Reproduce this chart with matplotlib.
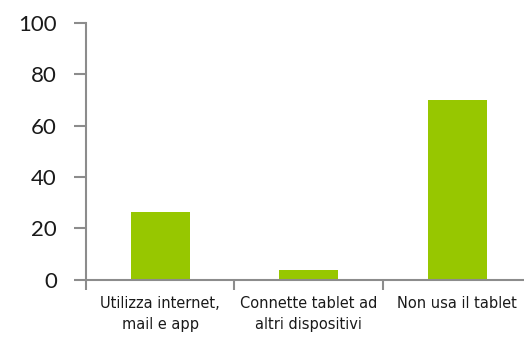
import matplotlib
matplotlib.use("Agg")
import matplotlib.pyplot as plt

# Chart data
categories = ["Utilizza internet,\nmail e app", "Connette tablet ad\naltri dispositivi", "Non usa il tablet"]
values = [26.3, 3.6, 70.0]
y_ticks = [0, 20, 40, 60, 80, 100]

bar_color = "#97C700"
axis_color = "#8C8C8C"

fig = plt.figure(figsize=(5.24, 3.39), dpi=100)
# axes reaches slightly past the right edge, as in the reference
ax = fig.add_axes([86 / 524, 1 - 279.5 / 339, 445.5 / 524, (279.5 - 23) / 339])

x = list(range(len(categories)))
ax.bar(x, values, width=0.40, color=bar_color, zorder=2)

ax.set_xlim(-0.5, len(categories) - 0.5)
ax.set_ylim(0, 100)

# Spines
for side in ["top", "right"]:
    ax.spines[side].set_visible(False)
for side in ["left", "bottom"]:
    ax.spines[side].set_color(axis_color)
    ax.spines[side].set_linewidth(1.5)

# Y axis
ax.set_yticks(y_ticks)
ax.set_yticklabels([str(v) for v in y_ticks], family=["Lato", "DejaVu Sans"], fontsize=16,
                   color="#1a1a1a")
ax.tick_params(axis="y", direction="out", length=9, width=1.5, color=axis_color, pad=12)

# X axis: labels centred, tick marks on category boundaries
ax.set_xticks(x)
labels = ax.set_xticklabels(categories, family=["DejaVu Sans"], fontstretch="condensed", fontsize=11.7,
                            color="#1a1a1a", linespacing=1.45)
for lab in labels:
    lab.set_multialignment("center")
ax.tick_params(axis="x", which="major", length=0, pad=12)
ax.set_xticks([i - 0.5 for i in range(len(categories) + 1)], minor=True)
ax.tick_params(axis="x", which="minor", direction="out", length=7, width=1.5, color=axis_color)

fig.savefig("out.png", dpi=100)
